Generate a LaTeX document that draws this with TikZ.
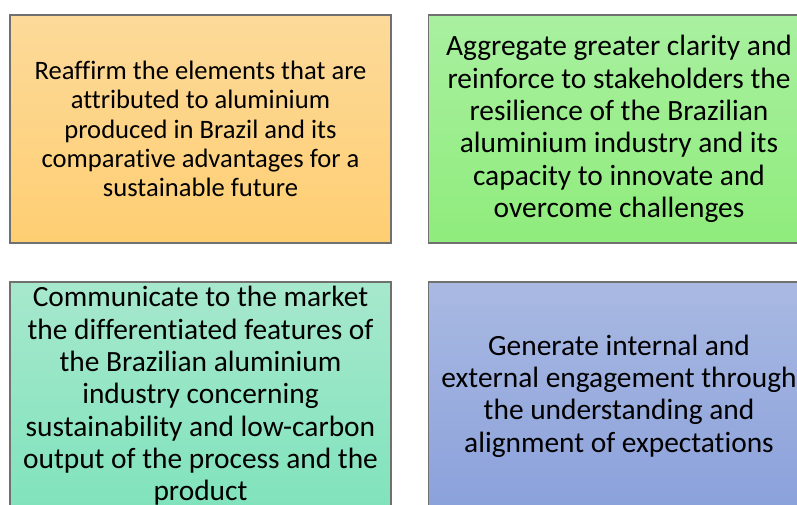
\documentclass[tikz,border=0pt]{standalone}
\usepackage{fontspec}
\setmainfont{Carlito}[Ligatures=NoCommon]
\definecolor{bordergray}{HTML}{707070}
\definecolor{oTop}{HTML}{FDDA9A}\definecolor{oBot}{HTML}{FECE72}
\definecolor{gTop}{HTML}{A9F0A0}\definecolor{gBot}{HTML}{8FEC7C}
\definecolor{tTop}{HTML}{A7E8CD}\definecolor{tBot}{HTML}{80E3BC}
\definecolor{bTop}{HTML}{A9B9E2}\definecolor{bBot}{HTML}{8BA1DB}
\begin{document}
\begin{tikzpicture}[x=1pt,y=-1pt,
  box/.style={draw=bordergray, line width=1.3pt, minimum width=381pt, minimum height=228pt,
    inner sep=0pt, align=center, text=black},
  small/.style={font=\fontsize{26.6}{29.2}\selectfont},
  big/.style={font=\fontsize{29.4}{32.3}\selectfont}]
\useasboundingbox (0,0) rectangle (797,504);
\fill[white] (0,0) rectangle (797,504);
\node[box, small, top color=oTop, bottom color=oBot] (b1) at (200.5,129)
  {Reaffirm the elements that are\\attributed to aluminium\\produced in Brazil and its\\comparative advantages for a\\sustainable future};
\node[box, big, top color=gTop, bottom color=gBot] (b2) at (619,129)
  {Aggregate greater clarity and\\reinforce to stakeholders the\\resilience of the Brazilian\\aluminium industry and its\\capacity to innovate and\\overcome challenges};
\node[box, big, top color=tTop, bottom color=tBot] (b3) at (200.5,396)
  {Communicate to the market\\the differentiated features of\\the Brazilian aluminium\\industry concerning\\sustainability and low-carbon\\output of the process and the\\product};
\node[box, big, top color=bTop, bottom color=bBot] (b4) at (619,396)
  {Generate internal and\\external engagement through\\the understanding and\\alignment of expectations};
\end{tikzpicture}
\end{document}
